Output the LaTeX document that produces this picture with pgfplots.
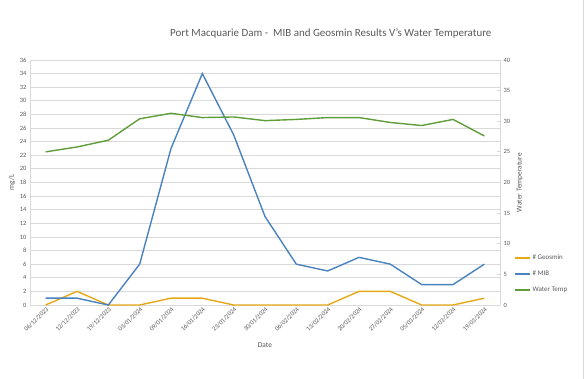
\documentclass[border=0pt]{standalone}
\usepackage{pgfplots}
\pgfplotsset{compat=1.18}
\usepackage{fontspec}
\setmainfont{Carlito}
\definecolor{geo}{HTML}{E6A817}
\definecolor{mib}{HTML}{4A82BF}
\definecolor{wt}{HTML}{5E9D3A}
\definecolor{txt}{HTML}{595959}
\definecolor{grd}{HTML}{D9D9D9}
\begin{document}
\begin{tikzpicture}
\useasboundingbox (0bp,0bp) rectangle (585bp,379bp);
\draw[grd, line width=0.8bp] (583.5bp,0bp) -- (583.5bp,379bp);
\begin{axis}[
  at={(30bp,74bp)}, anchor=south west,
  scale only axis, width=470bp, height=245bp,
  xmin=-0.5, xmax=14.5, ymin=0, ymax=36,
  xtick={0,...,14},
  xticklabels={06/12/2023,12/12/2023,19/12/2023,03/01/2024,09/01/2024,16/01/2024,23/01/2024,30/01/2024,06/02/2024,13/02/2024,20/02/2024,27/02/2024,05/03/2024,12/03/2024,19/03/2024},
  x tick label style={rotate=45, anchor=north east, font=\fontsize{6.5}{7}\selectfont, text=txt, inner sep=1pt},
  ytick={0,2,...,36},
  y tick label style={font=\fontsize{6.5}{7}\selectfont, text=txt},
  /pgf/number format/assume math mode=true,
  ymajorgrids, grid style={grd, line width=0.8bp},
  axis x line*=bottom, axis y line*=left,
  x axis line style={grd, line width=1bp, -},
  y axis line style={grd, line width=0.8bp, -},
  major tick length=0pt,
  xlabel={Date}, xlabel style={font=\fontsize{7.5}{8}\selectfont, text=txt, at={(0.5,0)}, yshift=-34bp},
  ylabel={mg/L}, ylabel style={font=\fontsize{7.5}{8}\selectfont, text=txt},
  ylabel shift=-2bp,
  clip=false,
]
\addplot[geo, line width=1.4bp] coordinates {(0,0) (1,2) (2,0) (3,0) (4,1) (5,1) (6,0) (7,0) (8,0) (9,0) (10,2) (11,2) (12,0) (13,0) (14,1)};
\addplot[mib, line width=1.4bp] coordinates {(0,1) (1,1) (2,0) (3,6) (4,23) (5,34) (6,25) (7,13) (8,6) (9,5) (10,7) (11,6) (12,3) (13,3) (14,6)};
\node[font=\fontsize{11}{13}\selectfont, text=txt] at (axis description cs:0.64,1.11) {Port Macquarie Dam -\ \ MIB and Geosmin Results V's Water Temperature};
\end{axis}
\begin{axis}[
  at={(30bp,74bp)}, anchor=south west,
  scale only axis, width=470bp, height=245bp,
  xmin=-0.5, xmax=14.5, ymin=0, ymax=40,
  axis x line=none, axis y line*=right,
  y axis line style={grd, line width=0.8bp, -},
  ytick={0,5,...,40},
  y tick label style={font=\fontsize{6.5}{7}\selectfont, text=txt},
  /pgf/number format/assume math mode=true,
  major tick length=3bp, tick style={grd, line width=0.8bp},
  ylabel={Water Temperature}, ylabel style={font=\fontsize{7.5}{8}\selectfont, text=txt},
  legend style={at={(1.03,0.127)}, anchor=west, draw=none, fill=none, font=\fontsize{7}{8}\selectfont, text=txt, row sep=6bp, inner sep=0pt},
  legend cell align=left,
  legend image code/.code={\draw[#1, line width=1.4bp] (0bp,0bp) -- (15bp,0bp);},
  clip=false,
]
\addlegendimage{geo}\addlegendentry{\# Geosmin}
\addlegendimage{mib}\addlegendentry{\# MIB}
\addlegendimage{wt}\addlegendentry{Water Temp}
\addplot[wt, line width=1.4bp, forget plot] coordinates {(0,25.0) (1,25.8) (2,26.9) (3,30.4) (4,31.3) (5,30.6) (6,30.7) (7,30.1) (8,30.3) (9,30.6) (10,30.6) (11,29.8) (12,29.3) (13,30.3) (14,27.6)};
\end{axis}
\end{tikzpicture}
\end{document}
